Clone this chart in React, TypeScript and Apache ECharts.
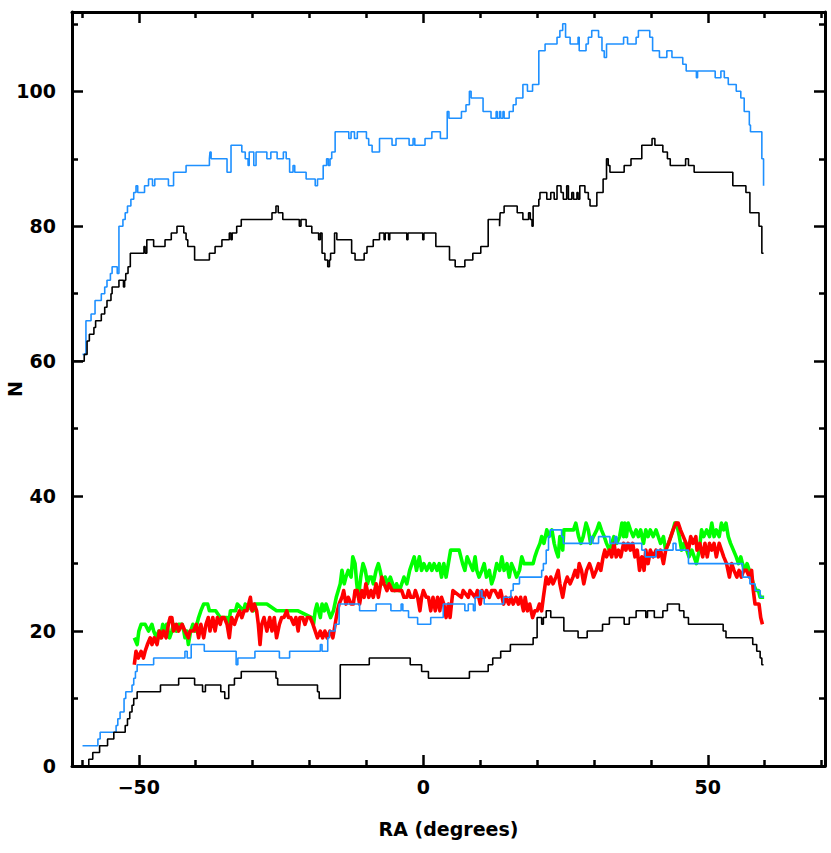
import React, { useEffect, useRef } from 'react';
import * as echarts from 'echarts';

// ---------- axis ticks ----------
const xMajorTicks = [-50, 0, 50];
const xMinorTicks = [-60, -40, -30, -20, -10, 10, 20, 30, 40, 60, 70];
const yMajorTicks = [0, 20, 40, 60, 80, 100];
const yMinorTicks = [10, 30, 50, 70, 90, 110];
const X_MIN = -61.75;
const X_MAX = 70.6;
const Y_MIN = 0;
const Y_MAX = 111.75;

// ---------- series (RA, N) ----------
const blueUpper: [number, number][] = [
  [-59.9,61],[-59.3,66],[-58.4,67],[-57.7,69],[-56.6,70],[-56.0,71],[-55.6,72],[-55.0,73],[-54.7,74],[-53.8,73],[-53.5,80],[-52.8,81],[-52.4,82],[-52.0,83],[-51.4,84],[-50.9,85],[-50.5,86],[-50.2,85],[-49.0,86],[-48.3,87],[-47.6,86],[-47.2,87],[-44.8,86],[-43.9,88],[-41.7,89],[-37.6,90],[-37.5,91],[-37.3,90],[-34.5,88],[-33.8,92],[-31.9,91],[-31.3,90],[-30.8,89],[-30.6,91],[-29.8,89],[-29.4,91],[-27.5,90],[-26.8,91],[-25.7,90],[-24.6,91],[-24.1,90],[-23.5,88],[-22.9,89],[-22.6,88],[-20.6,87],[-19.0,86],[-18.6,87],[-17.6,89],[-17.0,90],[-16.7,89],[-16.4,90],[-16.1,91],[-15.5,94],[-13.1,93],[-12.7,94],[-12.1,93],[-11.6,94],[-10.0,93],[-9.6,92],[-9.0,91],[-7.7,93],[-5.5,92],[-4.8,93],[-2.5,92],[-1.8,93],[-1.5,92],[0.3,93],[1.5,94],[3.0,93],[4.2,97],[4.5,96],[6.7,97],[7.5,98],[8.1,100],[8.4,99],[10.5,97],[11.9,96],[12.8,97],[13.0,96],[13.4,97],[13.6,96],[14.0,97],[14.2,96],[15.1,97],[15.8,98],[16.3,99],[17.5,101],[18.3,100],[19.2,101],[20.3,106],[21.4,107],[23.5,108],[24.0,109],[24.5,110],[25.0,108],[25.8,107],[27.2,108],[27.4,106],[28.6,107],[29.0,108],[29.6,109],[30.8,108],[31.4,106],[31.8,105],[32.2,107],[35.2,108],[35.9,107],[37.4,108],[37.8,109],[39.8,108],[40.3,106],[41.5,105],[42.8,106],[43.7,105],[45.6,104],[46.2,103],[48.0,102],[48.2,103],[51.3,102],[52.3,103],[52.9,102],[53.6,101],[55.0,100],[55.8,99],[56.4,97],[57.3,95],[57.5,94],[59.2,94],[59.5,90],[59.8,86]
];

const blackUpper: [number, number][] = [
  [-61.8,60],[-59.6,61],[-59.1,63],[-58.7,64],[-57.9,65],[-57.6,66],[-56.6,67],[-56.0,68],[-55.6,69],[-54.9,70],[-54.7,71],[-53.5,72],[-52.7,71],[-52.5,72],[-52.3,73],[-51.9,74],[-51.5,76],[-49.1,77],[-48.9,76],[-48.6,78],[-47.4,77],[-45.4,78],[-44.3,79],[-43.3,80],[-42.1,79],[-41.7,78],[-41.4,77],[-40.2,75],[-37.6,76],[-36.6,77],[-35.4,78],[-34.1,79],[-33.8,78],[-33.6,79],[-32.8,80],[-32.0,81],[-26.6,82],[-25.9,83],[-25.5,82],[-24.7,81],[-21.8,80],[-21.5,81],[-20.6,80],[-19.6,79],[-18.4,78],[-18.1,79],[-17.8,76],[-17.3,75],[-16.8,74],[-16.5,75],[-16.3,76],[-15.6,79],[-15.2,78],[-12.6,76],[-12.0,75],[-10.4,76],[-9.9,77],[-8.8,78],[-7.7,79],[-6.9,78],[-6.7,79],[-6.1,78],[-5.9,79],[-2.9,78],[-2.7,79],[-0.1,78],[0.1,79],[2.2,77],[4.6,75],[5.6,74],[7.3,75],[8.7,76],[10.1,77],[11.4,81],[13.4,80],[13.5,82],[14.2,83],[16.5,82],[17.5,81],[18.5,82],[18.8,81],[19.1,80],[19.3,83],[20.3,84],[20.5,85],[21.7,84],[22.4,85],[23.0,84],[23.5,86],[24.2,85],[24.6,84],[25.2,86],[25.5,84],[26.1,85],[26.4,84],[27.0,85],[27.2,84],[27.5,86],[28.4,85],[29.0,84],[29.3,83],[30.5,85],[31.6,87],[32.2,90],[32.5,89],[32.8,88],[35.3,89],[36.5,90],[38.4,92],[40.2,93],[40.7,92],[42.1,91],[42.9,90],[43.4,89],[46.1,90],[46.6,89],[47.6,88],[54.4,86],[56.7,85],[57.4,82],[59.0,80],[59.5,76],[59.8,76]
];

const blueLower: [number, number][] = [
  [-59.9,3],[-57.2,4],[-56.8,5],[-54.0,6],[-53.7,7],[-53.3,8],[-52.6,10],[-52.3,11],[-51.2,12],[-50.9,13],[-50.6,14],[-50.3,15],[-47.4,16],[-41.9,17],[-41.5,16],[-40.8,18],[-38.5,17],[-32.9,15],[-32.6,16],[-29.6,17],[-25.3,16],[-23.5,17],[-18.1,18],[-17.8,17],[-16.8,19],[-16.5,20],[-15.5,21],[-14.8,24],[-11.2,23],[-8.3,24],[-5.7,23],[-3.9,24],[-3.6,23],[-2.6,22],[-1.0,21],[1.3,22],[3.5,24],[7.3,23],[7.9,24],[8.8,23],[9.1,25],[9.9,26],[10.3,25],[10.7,24],[14.1,25],[15.4,26],[15.8,27],[16.9,28],[20.8,29],[21.1,30],[21.6,32],[22.0,34],[22.3,35],[24.3,34],[24.6,33],[29.4,34],[29.8,33],[30.8,34],[32.8,33],[33.7,34],[34.0,33],[38.4,32],[39.0,31],[40.9,32],[43.9,33],[44.4,32],[46.6,30],[56.1,28],[57.4,27],[58.3,26],[59.2,25],[59.8,25]
];

const blackLower: [number, number][] = [
  [-59.3,0],[-58.8,1],[-58.1,2],[-56.9,3],[-55.5,4],[-54.4,5],[-52.4,6],[-52.0,7],[-51.6,8],[-51.2,9],[-50.9,10],[-50.3,11],[-46.2,12],[-43.0,13],[-40.2,12],[-38.8,11],[-38.3,12],[-35.6,11],[-34.9,10],[-34.2,12],[-33.2,13],[-32.0,14],[-25.9,13],[-25.6,12],[-18.6,11],[-18.3,10],[-14.6,15],[-9.5,16],[-2.3,15],[-0.3,14],[0.9,13],[8.1,14],[11.4,15],[12.2,16],[13.6,17],[15.3,18],[19.3,19],[20.0,22],[20.8,21],[21.1,22],[21.6,23],[22.4,22],[24.7,20],[27.2,19],[28.8,20],[31.5,21],[32.7,22],[35.3,21],[36.2,22],[37.4,23],[39.1,22],[39.4,23],[40.6,22],[42.1,23],[42.9,24],[45.0,23],[45.8,22],[46.6,21],[52.7,20],[53.2,19],[57.9,18],[58.6,17],[59.2,16],[59.5,15],[59.8,15]
];

const redLine: [number, number][] = [
  [-50.8,15],[-50.5,17],[-50.1,16],[-49.6,17],[-49.2,16],[-48.9,17],[-48.5,18],[-48.0,19],[-47.7,18],[-47.3,19],[-46.8,18],[-46.4,20],[-46.0,19],[-45.7,20],[-45.2,19],[-44.8,21],[-44.5,22],[-44.2,22],[-43.9,20],[-43.4,21],[-43.0,20],[-42.4,21],[-41.9,20],[-41.3,19],[-41.0,20],[-40.4,20],[-39.9,21],[-39.5,19],[-39.1,21],[-38.6,19],[-38.2,21],[-37.8,22],[-37.5,20],[-37.0,22],[-36.6,20],[-36.2,22],[-35.7,21],[-35.4,22],[-35.0,22],[-34.5,21],[-34.1,19],[-33.7,22],[-33.2,21],[-32.8,22],[-32.3,23],[-31.9,22],[-31.5,23],[-31.0,23],[-30.4,25],[-30.1,23],[-29.7,24],[-29.3,23],[-29.0,21],[-28.7,18],[-28.4,21],[-28.0,22],[-27.5,20],[-27.0,22],[-26.6,20],[-26.2,22],[-25.8,19],[-25.3,21],[-24.9,22],[-24.5,22],[-24.0,23],[-23.7,22],[-23.3,22],[-22.8,21],[-22.4,22],[-22.0,20],[-21.7,22],[-21.2,22],[-20.8,21],[-20.4,22],[-19.9,22],[-19.4,21],[-19.0,20],[-18.6,19],[-18.1,20],[-17.7,19],[-17.3,20],[-16.9,19],[-16.4,20],[-15.9,19],[-15.5,21],[-15.1,23],[-14.8,24],[-14.3,25],[-14.0,26],[-13.6,24],[-13.2,25],[-12.7,24],[-12.3,24],[-12.0,26],[-11.6,26],[-11.2,24],[-10.8,26],[-10.4,25],[-10.1,27],[-9.6,25],[-9.2,26],[-8.8,25],[-8.3,27],[-7.9,25],[-7.3,28],[-6.9,27],[-6.4,26],[-6.0,27],[-5.5,26],[-5.0,26],[-4.4,26],[-3.8,26],[-3.4,25],[-2.9,25],[-2.6,26],[-2.2,25],[-1.7,25],[-1.4,26],[-1.0,25],[-0.6,23],[-0.3,25],[0.0,26],[0.5,25],[0.9,25],[1.3,23],[1.7,25],[2.1,23],[2.5,25],[2.9,23],[3.2,25],[3.6,24],[4.0,22],[4.4,24],[4.7,22],[5.2,26],[6.7,25],[7.0,26],[7.9,25],[8.2,26],[9.1,25],[9.5,26],[10.0,24],[10.3,26],[10.7,25],[11.1,26],[11.6,25],[12.0,26],[12.6,26],[13.2,25],[13.6,26],[14.1,24],[14.5,25],[15.0,24],[15.4,25],[15.8,24],[16.3,25],[16.7,24],[17.1,25],[17.6,23],[17.9,25],[18.3,23],[18.7,24],[19.2,22],[19.6,23],[20.0,23],[20.4,24],[20.8,23],[21.1,25],[21.6,28],[22.0,27],[22.4,28],[22.8,27],[23.3,28],[23.7,29],[24.0,27],
  [24.5,25],[24.9,27],[25.3,28],[25.8,27],[26.3,28],[26.7,29],[27.1,28],[27.4,30],[27.8,29],[28.2,27],[28.7,29],[29.2,30],[29.6,29],[29.9,28],[30.4,29],[30.8,30],[31.2,29],[31.6,31],[31.9,32],[32.2,31],[32.7,32],[33.1,31],[33.5,33],[33.9,31],[34.3,32],[34.7,31],[35.2,33],[35.6,32],[36.0,33],[36.4,32],[36.8,33],[37.2,31],[37.6,32],[38.0,29],[38.4,31],[38.8,29],[39.1,32],[39.5,30],[39.9,32],[40.4,31],[40.9,32],[41.3,31],[41.7,32],[42.2,30],[42.6,32],[43.1,33],[43.5,34],[43.9,35],[44.4,36],[44.8,36],[45.2,35],[45.7,34],[46.2,33],[46.6,32],[47.0,34],[47.4,33],[47.9,34],[48.1,32],[48.6,33],[49.1,31],[49.5,33],[49.9,31],[50.3,33],[50.7,32],[51.1,33],[51.5,31],[52.0,33],[52.4,32],[52.8,31],[53.3,30],[53.8,28],[54.2,30],[54.6,29],[55.1,28],[55.5,29],[55.9,28],[56.3,29],[56.8,29],[57.3,28],[57.7,29],[58.0,26],[58.3,24],[58.6,24],[59.0,24],[59.3,22],[59.6,21]
];

const greenLine: [number, number][] = [
  [-50.8,19],[-50.3,18],[-50.0,20],[-49.6,21],[-48.9,21],[-48.3,20],[-47.7,21],[-47.4,20],[-46.9,19],[-46.5,20],[-46.2,19],[-45.8,21],[-45.4,20],[-45.1,21],[-44.6,19],[-44.2,20],[-43.9,21],[-43.4,20],[-43.0,21],[-42.4,21],[-42.1,20],[-41.9,19],[-41.6,20],[-41.3,18],[-40.9,20],[-40.5,21],[-40.1,20],[-39.8,21],[-39.5,22],[-39.1,23],[-38.6,24],[-37.9,24],[-37.6,23],[-36.5,23],[-35.7,22],[-34.5,22],[-34.2,21],[-33.9,23],[-33.0,23],[-32.7,24],[-31.6,23],[-31.3,24],[-29.9,23],[-29.6,24],[-27.5,24],[-25.8,23],[-22.0,23],[-19.6,22],[-19.3,21],[-19.0,23],[-18.7,24],[-18.4,23],[-18.1,22],[-17.8,24],[-17.4,23],[-17.1,24],[-16.7,23],[-16.3,22],[-15.8,23],[-15.3,25],[-14.6,27],[-14.3,29],[-13.9,27],[-13.6,28],[-13.2,29],[-12.7,28],[-12.4,31],[-12.0,30],[-11.7,27],[-11.4,25],[-11.0,28],[-10.6,30],[-10.2,29],[-9.8,27],[-9.5,28],[-9.1,28],[-8.8,27],[-8.3,29],[-7.9,30],[-7.6,29],[-7.1,27],[-6.7,28],[-6.3,27],[-5.8,28],[-5.4,27],[-5.0,26],[-4.7,27],[-4.2,26],[-3.8,27],[-3.4,28],[-2.9,27],[-2.4,29],[-2.0,30],[-1.6,31],[-1.2,29],[-0.7,31],[-0.3,29],[0.1,30],[0.6,29],[1.1,30],[1.5,29],[1.9,30],[2.4,29],[2.8,30],[3.2,28],[3.6,30],[4.0,28],[4.4,30],[4.8,32],[6.3,32],[6.6,31],[6.9,30],[7.3,29],[7.7,31],[8.2,30],[8.7,29],[9.1,31],[9.4,29],[9.8,28],[10.3,29],[10.7,30],[11.1,28],[11.6,29],[12.0,27],[12.4,28],[12.9,30],[13.4,29],[13.8,31],[14.2,29],[14.7,30],[15.1,28],[15.5,30],[16.0,29],[16.4,28],[16.9,29],[17.3,31],[17.7,30],[19.3,30],[19.6,31],[20.0,32],[20.5,33],[20.8,34],[21.2,33],[21.7,35],[22.1,34],[22.6,35],[23.0,33],[23.3,32],[23.7,31],[24.0,34],[24.5,32],[24.7,35],[25.2,35],[26.4,35],[26.8,36],[27.3,34],[27.7,33],[28.1,34],[28.6,36],[29.0,35],[29.4,33],[29.9,34],[30.5,35],[30.9,36],[31.3,35],[31.8,34],[32.2,33],[32.7,32],[33.1,33],[33.5,34],[34.0,33],[34.5,34],[34.9,36],[35.2,34],[35.4,36],[35.7,34],[36.0,36],[36.4,35],[36.9,34],[37.4,35],[37.8,34],[38.2,35],[38.7,33],[39.1,35],[39.5,34],[39.9,35],[40.4,34],[40.9,35],[41.3,34],[41.7,33],[42.2,34],[42.6,32],[43.1,33],[43.5,34],[43.9,35],[44.2,36],[44.5,36],[45.0,34],[45.4,32],[45.8,33],[46.3,32],[46.7,31],[47.2,32],[47.6,31],[48.0,30],[48.5,32],[48.9,35],[49.3,34],[49.8,35],[50.3,34],[50.7,36],[51.1,34],[51.5,35],[52.0,34],[52.4,36],[52.8,35],[53.2,36],[53.6,34],[54.0,33],[54.5,32],[55.0,31],[55.4,30],[55.8,31],[56.1,30],[56.5,29],[56.9,30],[57.3,29],[57.7,28],[58.0,27],[58.5,26],[58.9,26],[59.2,25],[59.9,25]
];

const FONT = 'DejaVu Sans';
const fmt = (v: number) => (v < 0 ? '\u2212' + Math.abs(v) : String(v));

function xAxisDef(position: 'bottom' | 'top', ticks: number[], len: number, showLine: boolean, showLabel: boolean, extra: any = {}) {
  return {
    type: 'value', gridIndex: 0, position, min: X_MIN, max: X_MAX,
    axisLine: { show: showLine, onZero: false, lineStyle: { color: '#000', width: 3 } },
    axisTick: { show: true, inside: true, length: len, customValues: ticks, lineStyle: { color: '#000', width: 2.5 } },
    axisLabel: { show: showLabel, customValues: ticks, formatter: fmt, margin: 11, color: '#000', fontFamily: FONT, fontSize: 19, fontWeight: 'bold' },
    splitLine: { show: false },
    ...extra,
  };
}
function yAxisDef(position: 'left' | 'right', ticks: number[], len: number, showLine: boolean, showLabel: boolean, extra: any = {}) {
  return {
    type: 'value', gridIndex: 0, position, min: Y_MIN, max: Y_MAX,
    axisLine: { show: showLine, onZero: false, lineStyle: { color: '#000', width: 3 } },
    axisTick: { show: true, inside: true, length: len, customValues: ticks, lineStyle: { color: '#000', width: 2.5 } },
    axisLabel: { show: showLabel, customValues: ticks, formatter: fmt, margin: 16, color: '#000', fontFamily: FONT, fontSize: 19, fontWeight: 'bold' },
    splitLine: { show: false },
    ...extra,
  };
}

export default function App() {
  const ref = useRef<HTMLDivElement>(null);
  useEffect(() => {
    if (!ref.current) return;
    const chart = echarts.init(ref.current, undefined, { renderer: 'svg' });
    const thin = (data: [number, number][], color: string, z: number) => ({
      type: 'line', data, step: 'end', xAxisIndex: 0, yAxisIndex: 0, symbol: 'none', showSymbol: false, z,
      lineStyle: { color, width: 1.6 }, emphasis: { disabled: true }, silent: true,
    });
    const thick = (data: [number, number][], color: string, z: number) => ({
      type: 'line', data, xAxisIndex: 0, yAxisIndex: 0, symbol: 'none', showSymbol: false, z,
      lineStyle: { color, width: 3.6, join: 'round' }, emphasis: { disabled: true }, silent: true,
    });
    chart.setOption({
      animation: false,
      backgroundColor: '#fff',
      grid: { left: 72, right: 6, top: 12, bottom: 87, containLabel: false, outerBoundsMode: 'none' },
      xAxis: [
        xAxisDef('bottom', xMajorTicks, 11, true, true, {
          name: 'RA (degrees)', nameLocation: 'middle', nameGap: 53,
          nameTextStyle: { color: '#000', fontFamily: FONT, fontSize: 19, fontWeight: 'bold' },
        }),
        xAxisDef('bottom', xMinorTicks, 6, false, false),
        xAxisDef('top', xMajorTicks, 11, true, false),
        xAxisDef('top', xMinorTicks, 6, false, false),
      ],
      yAxis: [
        yAxisDef('left', yMajorTicks, 11, true, true, {
          name: 'N', nameLocation: 'middle', nameGap: 48, nameRotate: 90, nameMoveOverlap: false,
          nameTextStyle: { color: '#000', fontFamily: FONT, fontSize: 19, fontWeight: 'bold' },
        }),
        yAxisDef('left', yMinorTicks, 6, false, false),
        yAxisDef('right', yMajorTicks, 11, true, false),
        yAxisDef('right', yMinorTicks, 6, false, false),
      ],
      series: [
        thick(greenLine, '#00ff00', 2),
        thick(redLine, '#ff0000', 3),
        thin(blueLower, '#1e90ff', 4),
        thin(blackLower, '#000000', 5),
        thin(blueUpper, '#1e90ff', 4),
        thin(blackUpper, '#000000', 5),
      ],
    });
    return () => chart.dispose();
  }, []);
  return <div ref={ref} style={{ position: 'absolute', left: 0, top: 0, width: 831, height: 853 }} />;
}
